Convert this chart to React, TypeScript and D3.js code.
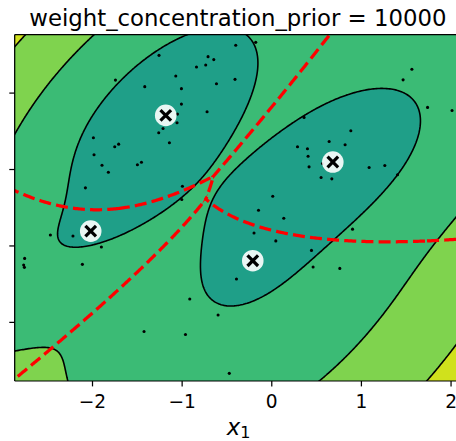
import React, { useMemo } from "react";
import * as d3 from "d3";

const W = 456, H = 441;
const AX_LEFT = 14.7, AX_RIGHT = 461, AX_TOP = 34.7, AX_BOTTOM = 381;

// observed samples (x1, x2)
const pointsX = [-1.258,-1.744,-1.417,-1.071,-1.008,-0.840,-0.737,-0.711,-0.647,-0.617,-1.008,-0.722,-1.052,-1.057,-1.213,-1.261,-1.142,-1.990,-1.983,-1.894,-1.823,-1.752,-1.708,-1.499,-1.454,-2.079,-0.997,-1.004,-0.402,-0.179,-0.410,1.563,1.465,1.738,2.011,0.882,0.360,0.640,0.818,0.287,0.398,0.405,0.416,0.566,0.550,0.670,1.086,1.261,1.403,0.011,-0.148,0.134,0.901,-2.470,-2.218,-1.901,-2.757,-2.768,-2.760,-2.113,-0.915,-0.599,-1.425,-0.963,-0.474,-0.198,0.045,0.443,0.461,0.759,-0.394];
const pointsY = [2.494,2.170,2.084,2.223,2.058,2.341,2.367,2.477,2.438,2.123,1.856,1.756,1.725,1.612,1.537,1.481,1.350,1.415,1.193,1.056,0.965,1.297,1.332,1.062,1.096,0.760,0.781,0.607,2.625,2.664,2.180,2.311,2.173,1.813,1.773,1.507,1.682,1.367,1.324,1.297,1.271,1.174,1.035,1.079,0.895,0.878,1.026,1.052,0.931,0.650,0.467,0.362,0.220,0.144,0.131,-0.013,-0.163,-0.249,-0.280,-0.241,-0.695,-0.904,-1.119,-1.159,-1.667,0.170,0.066,-0.058,-0.275,-0.294,-0.432];

// Bayesian Gaussian mixture components (means, covariances, expected log weights)
const compMeanX = [-1.183, -2.020, 0.681, -0.212];
const compMeanY = [1.708, 0.194, 1.098, -0.193];
const compCovXX = [0.3309, 0.7444, 0.4809, 0.4960];
const compCovXY = [0.2262, 0.3348, 0.2698, 0.2903];
const compCovYY = [0.4201, 0.3406, 0.4661, 0.6924];
const compLogWeight = [-5.903, -7.340, -6.245, -6.755];

// contour levels: logspace(0, 2, 12), LogNorm(vmin=1, vmax=30)
const levels = d3.range(12).map((i) => Math.pow(10, (2 * i) / 11));
const normMin = 1, normMax = 30;

const xDomain = [d3.min(pointsX)! - 0.1, d3.max(pointsX)! + 0.1];
const yDomain = [d3.min(pointsY)! - 0.1, d3.max(pointsY)! + 0.1];
const xScale = d3.scaleLinear().domain(xDomain).range([AX_LEFT, AX_RIGHT]);
const yScale = d3.scaleLinear().domain(yDomain).range([AX_BOTTOM, AX_TOP]);

type Comp = { mx: number; my: number; pxx: number; pxy: number; pyy: number; c: number };
const comps: Comp[] = compCovXX.map((_, k) => {
  const det = compCovXX[k] * compCovYY[k] - compCovXY[k] * compCovXY[k];
  return {
    mx: compMeanX[k], my: compMeanY[k],
    pxx: compCovYY[k] / det, pyy: compCovXX[k] / det, pxy: -compCovXY[k] / det,
    c: compLogWeight[k] - Math.log(2 * Math.PI) - 0.5 * Math.log(det),
  };
});
function lpK(cp: Comp, x: number, y: number) {
  const dx = x - cp.mx, dy = y - cp.my;
  return cp.c - 0.5 * (cp.pxx * dx * dx + 2 * cp.pxy * dx * dy + cp.pyy * dy * dy);
}

function bandColor(i: number) {
  const mid = (levels[i] + levels[i + 1]) / 2;
  const t = Math.log(mid / normMin) / Math.log(normMax / normMin);
  return d3.interpolateViridis(Math.max(0, Math.min(1, t)));
}

const NX = 320, NY = 260;
const GX0 = xDomain[0] - 0.12, GX1 = xDomain[1] + 0.12;
const GY0 = yDomain[0] - 0.12, GY1 = yDomain[1] + 0.12;
const GDX = (GX1 - GX0) / (NX - 1), GDY = (GY1 - GY0) / (NY - 1);

function geomPath(geom: any) {
  let d = "";
  for (const poly of geom.coordinates) for (const ring of poly) {
    ring.forEach((p: number[], i: number) => {
      const X = xScale(GX0 + (p[0] - 0.5) * GDX), Y = yScale(GY1 - (p[1] - 0.5) * GDY);
      d += (i ? "L" : "M") + X.toFixed(2) + "," + Y.toFixed(2);
    });
    d += "Z";
  }
  return d;
}

function buildLayers() {
  const N = NX * NY;
  const nll = new Array(N);
  const lps = comps.map(() => new Float64Array(N));
  for (let j = 0; j < NY; j++) {
    const y = GY1 - j * GDY;
    for (let i = 0; i < NX; i++) {
      const x = GX0 + i * GDX, idx = j * NX + i;
      let m = -Infinity;
      comps.forEach((cp, k) => { const l = lpK(cp, x, y); lps[k][idx] = l; if (l > m) m = l; });
      let s = 0;
      for (let k = 0; k < comps.length; k++) s += Math.exp(lps[k][idx] - m);
      nll[idx] = -(m + Math.log(s));
    }
  }
  const cs = d3.contours().size([NX, NY]).thresholds(levels)(nll);
  const fills = cs.map((g, i) => ({ d: geomPath(g), color: bandColor(Math.min(i, 10)) }));
  const pairs: { key: string; line: string; mask: string }[] = [];
  for (let i = 0; i < comps.length; i++) for (let j = i + 1; j < comps.length; j++) {
    const g = new Array(N), h = new Array(N);
    for (let idx = 0; idx < N; idx++) {
      const a = lps[i][idx], b = lps[j][idx];
      let mo = -Infinity;
      for (let k = 0; k < comps.length; k++) if (k !== i && k !== j && lps[k][idx] > mo) mo = lps[k][idx];
      g[idx] = a - b;
      h[idx] = Math.max(a, b) - mo;
    }
    const gl = d3.contours().size([NX, NY]).thresholds([0])(g)[0];
    const hm = d3.contours().size([NX, NY]).thresholds([0])(h)[0];
    pairs.push({ key: `${i}${j}`, line: geomPath(gl), mask: geomPath(hm) });
  }
  return { fills, pairs };
}

const FONT = "DejaVu Sans";
const fmt = (t: number) => (t < 0 ? "\u2212" + Math.abs(t) : String(t));

export default function App() {
  const { fills, pairs } = useMemo(() => buildLayers(), []);
  const xt = xScale.ticks(5), yt = yScale.ticks(5);
  return (
    <svg width={W} height={H} style={{ position: "absolute", left: 0, top: 0, background: "#fff" }}>
      <defs>
        <clipPath id="plot"><rect x={AX_LEFT} y={AX_TOP} width={AX_RIGHT - AX_LEFT} height={AX_BOTTOM - AX_TOP} /></clipPath>
        {pairs.map((p) => (<clipPath key={p.key} id={`m${p.key}`}><path d={p.mask} fillRule="evenodd" /></clipPath>))}
      </defs>
      <g clipPath="url(#plot)">
        {fills.map((f, i) => (<path key={i} d={f.d} fill={f.color} fillRule="evenodd" stroke="none" />))}
        {fills.map((f, i) => (<path key={"l" + i} d={f.d} fill="none" stroke="#000" strokeWidth={1.6} />))}
        {pairs.map((p) => (
          <g key={p.key} clipPath={`url(#m${p.key})`}>
            <path d={p.line} fill="none" stroke="#ff0000" strokeWidth={3.25} strokeDasharray="12,5.2" />
          </g>
        ))}
        {pointsX.map((x, i) => (<circle key={i} cx={xScale(x)} cy={yScale(pointsY[i])} r={1.55} fill="#000" />))}
        {compMeanX.map((x, k) => (
          <g key={k} transform={`translate(${xScale(x)},${yScale(compMeanY[k])})`}>
            <circle r={10.8} fill="#fff" fillOpacity={0.9} />
            <rect x={-1.6} y={-7.5} width={3.2} height={15} fill="#000" transform="rotate(45)" />
            <rect x={-1.6} y={-7.5} width={3.2} height={15} fill="#000" transform="rotate(-45)" />
          </g>
        ))}
      </g>
      <line x1={AX_LEFT} x2={AX_LEFT} y1={AX_TOP} y2={AX_BOTTOM} stroke="#000" strokeWidth={1.24} />
      <line x1={AX_LEFT} x2={AX_RIGHT} y1={AX_TOP} y2={AX_TOP} stroke="#000" strokeWidth={1.24} />
      <line x1={AX_LEFT} x2={AX_RIGHT} y1={AX_BOTTOM} y2={AX_BOTTOM} stroke="#000" strokeWidth={1.24} />
      {xt.map((t) => (
        <g key={t}>
          <line x1={xScale(t)} x2={xScale(t)} y1={AX_BOTTOM} y2={AX_BOTTOM + 5.4} stroke="#000" strokeWidth={1.24} />
          <text x={xScale(t)} y={408} textAnchor="middle" fontFamily={FONT} fontSize={18.6}>{fmt(t)}</text>
        </g>
      ))}
      {yt.map((t) => (<line key={t} x1={AX_LEFT - 5.4} x2={AX_LEFT} y1={yScale(t)} y2={yScale(t)} stroke="#000" strokeWidth={1.24} />))}
      <text x={(AX_LEFT + AX_RIGHT) / 2} y={26} textAnchor="middle" fontFamily={FONT} fontSize={22.8}>weight_concentration_prior = 10000</text>
      <text x={238.5} y={434.5} textAnchor="middle" fontFamily={FONT} fontSize={22.8}>
        <tspan fontStyle="italic">x</tspan><tspan fontSize={16} dy={3.5}>1</tspan>
      </text>
    </svg>
  );
}
